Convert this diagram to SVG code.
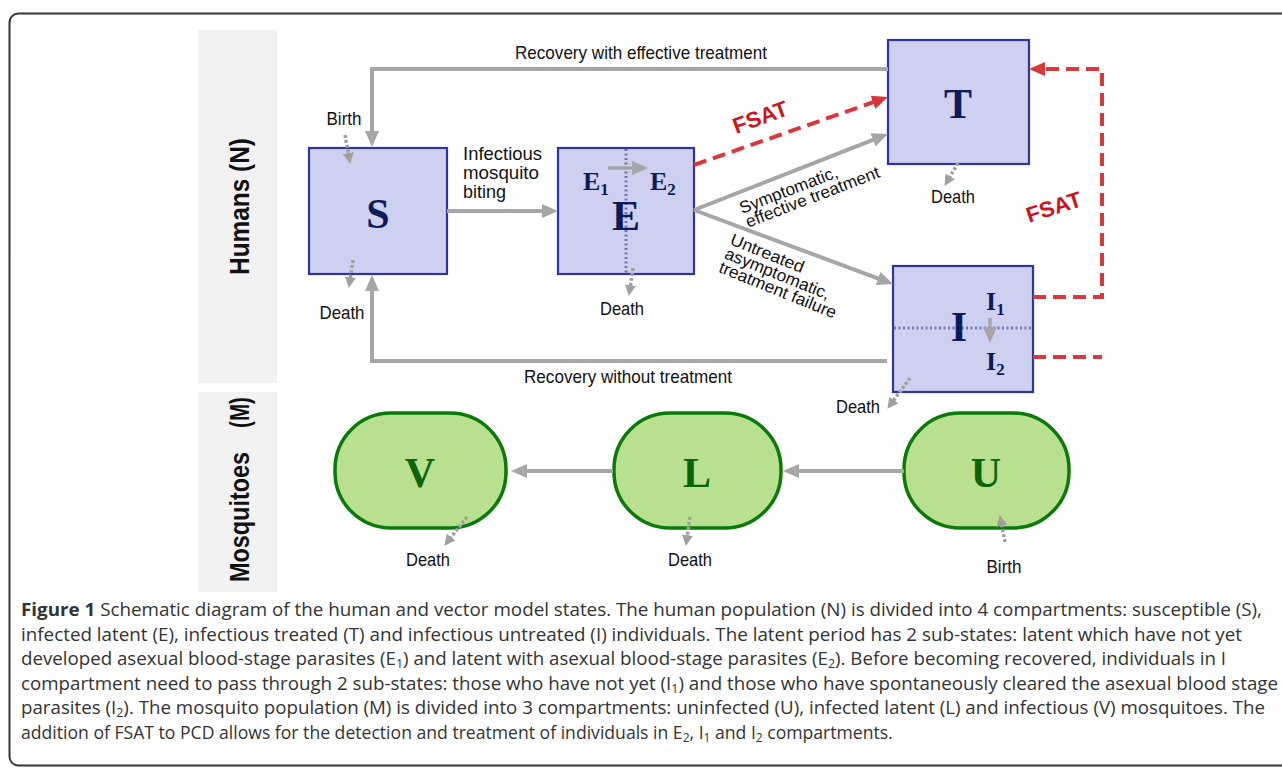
<svg xmlns="http://www.w3.org/2000/svg" width="1282" height="768" viewBox="0 0 1282 768">
<style>
.panel{fill:#f2f2f2}
.ptxt{font-family:"Liberation Sans",Arial,sans-serif;font-weight:bold;font-size:28px;fill:#111}
.box{fill:#cdd0ee;stroke:#2e35a0;stroke-width:2.2}
.gbox{fill:#b9e08e;stroke:#0b7a0b;stroke-width:3.5}
.big{font-family:"Liberation Serif","Times New Roman",serif;font-weight:bold;font-size:42px;fill:#0c1a5a;text-anchor:middle}
.gbig{font-family:"Liberation Serif","Times New Roman",serif;font-weight:bold;font-size:42px;fill:#0a640a;text-anchor:middle}
.sub{font-family:"Liberation Serif","Times New Roman",serif;font-weight:bold;font-size:26px;fill:#0c1a5a}
.lbl{font-family:"Liberation Sans",Arial,sans-serif;font-size:19px;fill:#111}
.sl{font-family:"Liberation Sans",Arial,sans-serif;font-size:17px;fill:#111}
.fsat{font-family:"Liberation Sans",Arial,sans-serif;font-weight:bold;font-size:22px;fill:#c8181e}
.g{fill:none;stroke:#a6a6a6;stroke-width:4}
.gt{fill:none;stroke:#a6a6a6;stroke-width:3.5}
.r{fill:none;stroke:#d9383a;stroke-width:4;stroke-dasharray:13 7}
.d{fill:none;stroke:#a0a0a0;stroke-width:3.5;stroke-dasharray:3 2}
.dv{fill:none;stroke:#7474b4;stroke-width:3;stroke-dasharray:2 2.5}
.cap{font-family:"Open Sans","Noto Sans",sans-serif;font-size:18px;fill:#333}
</style>
<defs>
<marker id="ag" markerUnits="userSpaceOnUse" markerWidth="16" markerHeight="14" viewBox="0 0 16 14" refX="4" refY="7" orient="auto"><path d="M0,0 L16,7 L0,14 z" fill="#a6a6a6"/></marker>
<marker id="ar" markerUnits="userSpaceOnUse" markerWidth="16" markerHeight="14" viewBox="0 0 16 14" refX="4" refY="7" orient="auto"><path d="M0,0 L16,7 L0,14 z" fill="#d9383a"/></marker>
<marker id="ad" markerUnits="userSpaceOnUse" markerWidth="11" markerHeight="11" viewBox="0 0 11 11" refX="3" refY="5.5" orient="auto"><path d="M0,0 L11,5.5 L0,11 z" fill="#a0a0a0"/></marker>
</defs>
<rect x="0" y="0" width="1282" height="768" fill="#fff"/>
<rect x="9.5" y="13.5" width="1300" height="752" rx="9" fill="none" stroke="#333" stroke-width="2"/>

<g id="panel-humans">
<rect class="panel" x="198" y="30" width="79" height="353"/>
<text class="ptxt" transform="translate(249,275) rotate(-90)" textLength="137" lengthAdjust="spacingAndGlyphs">Humans (N)</text>
</g>
<g id="panel-mosquitoes">
<rect class="panel" x="198" y="392" width="79" height="200"/>
<text class="ptxt" transform="translate(249,582) rotate(-90)" textLength="130" lengthAdjust="spacingAndGlyphs">Mosquitoes</text>
<text class="ptxt" transform="translate(249,428) rotate(-90)" textLength="31" lengthAdjust="spacingAndGlyphs">(M)</text>
</g>

<g id="node-S">
<rect class="box" x="309" y="148" width="138" height="126"/>
<text class="big" x="378" y="228">S</text>
</g>
<g id="node-E">
<rect class="box" x="558" y="148" width="136" height="126"/>
<path class="dv" d="M626,149 V273"/>
<text class="big" x="626" y="230">E</text>
<text class="sub" x="583" y="190">E<tspan font-size="17" dy="5">1</tspan></text>
<text class="sub" x="650" y="190">E<tspan font-size="17" dy="5">2</tspan></text>
</g>
<g id="node-T">
<rect class="box" x="888" y="40" width="141" height="124"/>
<text class="big" x="958" y="118">T</text>
</g>
<g id="node-I">
<rect class="box" x="893" y="266" width="140" height="126"/>
<path class="dv" d="M894,328 H1032"/>
<text class="big" x="959" y="341">I</text>
<text class="sub" x="986" y="310">I<tspan font-size="17" dy="5">1</tspan></text>
<text class="sub" x="986" y="370">I<tspan font-size="17" dy="5">2</tspan></text>
</g>
<g id="node-V">
<rect class="gbox" x="335" y="413" width="171" height="115" rx="56" ry="56"/>
<text class="gbig" x="420" y="487">V</text>
</g>
<g id="node-L">
<rect class="gbox" x="614" y="413" width="167" height="115" rx="56" ry="56"/>
<text class="gbig" x="697" y="487">L</text>
</g>
<g id="node-U">
<rect class="gbox" x="904" y="413" width="165" height="115" rx="56" ry="56"/>
<text class="gbig" x="986" y="487">U</text>
</g>

<g id="connectors">
<path class="g" d="M888,69 H372 V135" marker-end="url(#ag)"/>
<path class="g" d="M887,361 H372 V287" marker-end="url(#ag)"/>
<path class="g" d="M447,211 H546" marker-end="url(#ag)"/>
<path class="g" d="M694,210 L876.8,138.4" marker-end="url(#ag)"/>
<path class="g" d="M694,210 L881.8,279.8" marker-end="url(#ag)"/>
<path class="g" d="M904,471 H795" marker-end="url(#ag)"/>
<path class="g" d="M613,471 H523" marker-end="url(#ag)"/>
<path class="gt" d="M608,168 H636" marker-end="url(#ag)"/>
<path class="gt" d="M990,318 V331" marker-end="url(#ag)"/>
<path class="r" d="M694,165 L876.7,101" marker-end="url(#ar)"/>
<path class="r" d="M1033,297 H1102 V69 H1041" marker-end="url(#ar)"/>
<path class="r" d="M1033,357 H1102"/>
<path class="d" d="M345,135 L348.8,156.1" marker-end="url(#ad)"/>
<path class="d" d="M353,260 L350,280.1" marker-end="url(#ad)"/>
<path class="d" d="M633,268 L630,288.1" marker-end="url(#ad)"/>
<path class="d" d="M958,163 L948.6,179" marker-end="url(#ad)"/>
<path class="d" d="M910,378 L892.1,402.4" marker-end="url(#ad)"/>
<path class="d" d="M467,517 L449.3,539.5" marker-end="url(#ad)"/>
<path class="d" d="M690,517 L687,538.1" marker-end="url(#ad)"/>
<path class="d" d="M1005,542 L1001.3,522.9" marker-end="url(#ad)"/>
</g>

<g id="connector-labels">
<text class="lbl" x="515" y="59" textLength="252" lengthAdjust="spacingAndGlyphs">Recovery with effective treatment</text>
<text class="lbl" x="524" y="383" textLength="208" lengthAdjust="spacingAndGlyphs">Recovery without treatment</text>
<text class="lbl" x="463" y="160" textLength="79" lengthAdjust="spacingAndGlyphs">Infectious</text>
<text class="lbl" x="463" y="179" textLength="76" lengthAdjust="spacingAndGlyphs">mosquito</text>
<text class="lbl" x="463" y="198" textLength="43" lengthAdjust="spacingAndGlyphs">biting</text>
<g transform="translate(742,214) rotate(-21)">
<text class="sl" x="0" y="0" textLength="104" lengthAdjust="spacingAndGlyphs">Symptomatic,</text>
<text class="sl" x="1" y="15" textLength="142" lengthAdjust="spacingAndGlyphs">effective treatment</text>
</g>
<g transform="translate(729,244) rotate(22)">
<text class="sl" x="0" y="0" textLength="78" lengthAdjust="spacingAndGlyphs">Untreated</text>
<text class="sl" x="0" y="15" textLength="112" lengthAdjust="spacingAndGlyphs">asymptomatic,</text>
<text class="sl" x="0" y="30" textLength="125" lengthAdjust="spacingAndGlyphs">treatment failure</text>
</g>
<text class="fsat" transform="translate(736,134) rotate(-20)" textLength="57" lengthAdjust="spacingAndGlyphs">FSAT</text>
<text class="fsat" transform="translate(1029,223) rotate(-18)" textLength="57" lengthAdjust="spacingAndGlyphs">FSAT</text>
<text class="lbl" x="344" y="125" text-anchor="middle" textLength="35" lengthAdjust="spacingAndGlyphs">Birth</text>
<text class="lbl" x="342" y="319" text-anchor="middle" textLength="45" lengthAdjust="spacingAndGlyphs">Death</text>
<text class="lbl" x="622" y="315" text-anchor="middle" textLength="44" lengthAdjust="spacingAndGlyphs">Death</text>
<text class="lbl" x="953" y="203" text-anchor="middle" textLength="44" lengthAdjust="spacingAndGlyphs">Death</text>
<text class="lbl" x="858" y="413" text-anchor="middle" textLength="44" lengthAdjust="spacingAndGlyphs">Death</text>
<text class="lbl" x="428" y="566" text-anchor="middle" textLength="44" lengthAdjust="spacingAndGlyphs">Death</text>
<text class="lbl" x="690" y="566" text-anchor="middle" textLength="44" lengthAdjust="spacingAndGlyphs">Death</text>
<text class="lbl" x="1004" y="573" text-anchor="middle" textLength="35" lengthAdjust="spacingAndGlyphs">Birth</text>
</g>

<g id="caption">
<text class="cap" x="21" y="616" textLength="1241" lengthAdjust="spacingAndGlyphs"><tspan font-weight="bold">Figure 1</tspan> Schematic diagram of the human and vector model states. The human population (N) is divided into 4 compartments: susceptible (S),</text>
<text class="cap" x="21" y="641" textLength="1221" lengthAdjust="spacingAndGlyphs">infected latent (E), infectious treated (T) and infectious untreated (I) individuals. The latent period has 2 sub-states: latent which have not yet</text>
<text class="cap" x="21" y="665" textLength="1205" lengthAdjust="spacingAndGlyphs">developed asexual blood-stage parasites (E<tspan font-size="12" dy="3">1</tspan><tspan dy="-3">) and latent with asexual blood-stage parasites (E</tspan><tspan font-size="12" dy="3">2</tspan><tspan dy="-3">). Before becoming recovered, individuals in I</tspan></text>
<text class="cap" x="21" y="690" textLength="1257" lengthAdjust="spacingAndGlyphs">compartment need to pass through 2 sub-states: those who have not yet (I<tspan font-size="12" dy="3">1</tspan><tspan dy="-3">) and those who have spontaneously cleared the asexual blood stage</tspan></text>
<text class="cap" x="21" y="714" textLength="1244" lengthAdjust="spacingAndGlyphs">parasites (I<tspan font-size="12" dy="3">2</tspan><tspan dy="-3">). The mosquito population (M) is divided into 3 compartments: uninfected (U), infected latent (L) and infectious (V) mosquitoes. The</tspan></text>
<text class="cap" x="21" y="739" style="font-size:17.6px">addition of FSAT to PCD allows for the detection and treatment of individuals in E<tspan font-size="12" dy="3">2</tspan><tspan dy="-3">, I</tspan><tspan font-size="12" dy="3">1</tspan><tspan dy="-3"> and I</tspan><tspan font-size="12" dy="3">2</tspan><tspan dy="-3"> compartments.</tspan></text>
</g>
</svg>
